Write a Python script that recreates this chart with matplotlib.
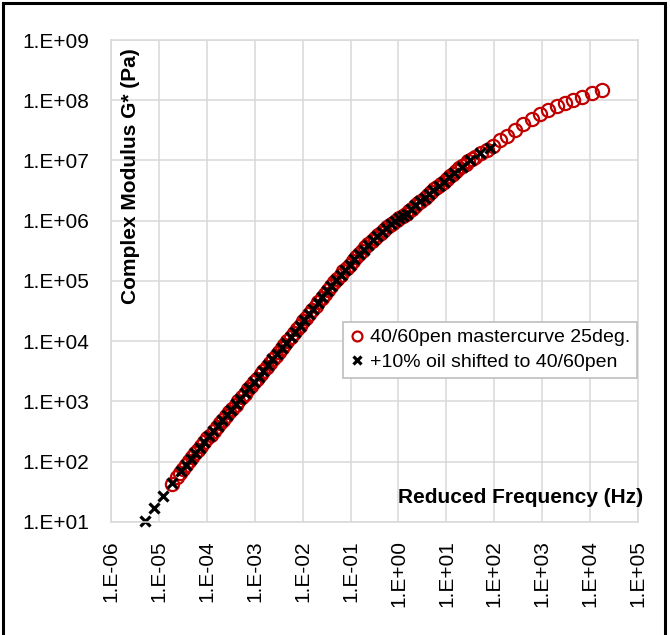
import matplotlib
matplotlib.use("Agg")
import matplotlib.pyplot as plt
from matplotlib.patches import Rectangle
import numpy as np

plt.rcParams['font.family'] = ['Liberation Sans', 'DejaVu Sans']

# 40/60pen mastercurve at 25 deg (log10 of reduced frequency, log10 of G*)
pen_logf = [-4.73, -4.62, -4.50, -4.38, -4.25, -4.12, -3.99, -3.86, -3.73, -3.60,
            -3.47, -3.34, -3.21, -3.08, -2.95, -2.82, -2.69, -2.56, -2.44, -2.32,
            -2.19, -2.06, -1.93, -1.80, -1.67, -1.54, -1.41, -1.28, -1.15, -1.02,
            -0.89, -0.76, -0.63, -0.50, -0.37, -0.24, -0.11, 0.02, 0.15, 0.28,
            0.41, 0.55, 0.68, 0.81, 0.94, 1.07, 1.20, 1.33, 1.46, 1.59,
            1.72, 1.85, 1.98, 2.12, 2.26, 2.43, 2.60, 2.78, 2.95, 3.12,
            3.30, 3.47, 3.65, 3.83, 4.04, 4.24,
            -4.56, -4.44, -4.31, -4.18, -4.05, -3.92, -3.79, -3.66, -3.53, -3.40,
            -3.27, -3.14, -3.01, -2.88, -2.75, -2.62, -2.50, -2.38, -2.25, -2.12,
            -1.99, -1.86, -1.73, -1.60, -1.47, -1.34, -1.21, -1.08, -0.95, -0.82,
            -0.69, -0.56, -0.43, -0.30, -0.17, -0.04, 0.09, 0.22, 0.35, 0.48,
            0.62, 0.75, 0.88, 1.01, 1.14, 1.27, 1.40, 1.53]
pen_logg = [1.63, 1.75, 1.88, 2.01, 2.14, 2.26, 2.39, 2.51, 2.64, 2.76,
            2.88, 3.00, 3.13, 3.26, 3.38, 3.51, 3.64, 3.76, 3.88, 4.00,
            4.13, 4.26, 4.39, 4.52, 4.65, 4.78, 4.91, 5.04, 5.16, 5.27,
            5.39, 5.50, 5.61, 5.71, 5.80, 5.89, 5.97, 6.05, 6.11, 6.20,
            6.29, 6.37, 6.47, 6.56, 6.65, 6.74, 6.82, 6.91, 6.99, 7.06,
            7.13, 7.18, 7.24, 7.34, 7.41, 7.51, 7.60, 7.69, 7.77, 7.84,
            7.91, 7.96, 8.01, 8.06, 8.115, 8.175,
            1.81, 1.95, 2.08, 2.20, 2.33, 2.45, 2.58, 2.70, 2.82, 2.94,
            3.07, 3.20, 3.32, 3.45, 3.58, 3.70, 3.82, 3.94, 4.07, 4.20,
            4.33, 4.46, 4.59, 4.72, 4.85, 4.98, 5.10, 5.22, 5.33, 5.45,
            5.56, 5.66, 5.76, 5.85, 5.93, 6.01, 6.08, 6.16, 6.25, 6.33,
            6.42, 6.52, 6.61, 6.70, 6.78, 6.87, 6.95, 7.03]

# +10% oil, shifted onto the 40/60pen curve
oil_logf = [-5.29, -5.10, -4.91, -4.72, -4.53, -4.44, -4.34, -4.25, -4.15, -4.06,
            -3.96, -3.87, -3.77, -3.68, -3.58, -3.49, -3.39, -3.30, -3.20, -3.11,
            -3.01, -2.92, -2.82, -2.73, -2.63, -2.54, -2.44, -2.35, -2.25, -2.16,
            -2.06, -1.97, -1.87, -1.78, -1.68, -1.59, -1.49, -1.40, -1.30, -1.21,
            -1.11, -1.02, -0.92, -0.83, -0.73, -0.64, -0.54, -0.45, -0.35, -0.26,
            -0.16, -0.07, 0.01, 0.09, 0.17, 0.26, 0.35, 0.45, 0.55, 0.64,
            0.73, 0.84, 0.94, 1.05, 1.15, 1.32, 1.50, 1.70, 1.91]
oil_logg = [1.02, 1.23, 1.43, 1.64, 1.85, 1.95, 2.05, 2.14, 2.23, 2.32,
            2.42, 2.51, 2.60, 2.69, 2.78, 2.86, 2.95, 3.04, 3.14, 3.23,
            3.32, 3.41, 3.51, 3.60, 3.70, 3.79, 3.88, 3.97, 4.07, 4.16,
            4.26, 4.35, 4.45, 4.54, 4.64, 4.73, 4.83, 4.92, 5.02, 5.10,
            5.19, 5.27, 5.36, 5.44, 5.52, 5.60, 5.68, 5.75, 5.82, 5.88,
            5.94, 6.00, 6.04, 6.08, 6.12, 6.19, 6.26, 6.32, 6.37, 6.44,
            6.51, 6.58, 6.65, 6.72, 6.79, 6.90, 7.01, 7.12, 7.20]

x_ticks = [1e-6, 1e-5, 1e-4, 1e-3, 1e-2, 1e-1, 1e0, 1e1, 1e2, 1e3, 1e4, 1e5]
x_labels = ['1.E-06', '1.E-05', '1.E-04', '1.E-03', '1.E-02', '1.E-01',
            '1.E+00', '1.E+01', '1.E+02', '1.E+03', '1.E+04', '1.E+05']
y_ticks = [1e1, 1e2, 1e3, 1e4, 1e5, 1e6, 1e7, 1e8, 1e9]
y_labels = ['1.E+01', '1.E+02', '1.E+03', '1.E+04', '1.E+05',
            '1.E+06', '1.E+07', '1.E+08', '1.E+09']

fig = plt.figure(figsize=(6.7, 6.35), dpi=100)
ax = fig.add_axes([0.1657, 0.178, 0.7866, 0.759])

ax.plot(10 ** np.array(pen_logf), 10 ** np.array(pen_logg), 'o', mfc='none',
        mec='#C00000', ms=9.5, mew=1.6, clip_on=False,
        label='40/60pen mastercurve 25deg.')
ax.plot(10 ** np.array(oil_logf), 10 ** np.array(oil_logg), 'x', color='black',
        ms=7, mew=2.3, clip_on=False, label='+10% oil shifted to 40/60pen')

ax.set_xscale('log')
ax.set_yscale('log')
ax.set_xlim(1e-6, 1e5)
ax.set_ylim(1e1, 1e9)
ax.set_xticks(x_ticks)
ax.set_xticklabels(x_labels, rotation=90)
ax.set_yticks(y_ticks)
ax.set_yticklabels(y_labels)
ax.minorticks_off()
ax.tick_params(axis='both', length=0, labelsize=15)
ax.tick_params(axis='y', pad=16)
ax.tick_params(axis='x', pad=13)

ax.grid(True, color='#D9D9D9', lw=1.1)
ax.set_axisbelow(True)
for s in ax.spines.values():
    s.set_color('#D9D9D9')
    s.set_linewidth(1.1)

fig.text(130 / 670, 0.722, 'Complex Modulus G* (Pa)', rotation=90,
         fontsize=15, fontweight='bold', ha='center', va='center')
fig.text(643 / 670, 0.217, 'Reduced Frequency (Hz)', fontsize=15,
         fontweight='bold', ha='right', va='center')

leg = ax.legend(loc='upper left', bbox_to_anchor=(0.44, 0.415), borderaxespad=0,
                fontsize=14, fancybox=False, framealpha=1, edgecolor='#BFBFBF',
                handlelength=0.7, handletextpad=0.35, borderpad=0.35,
                labelspacing=0.35, markerscale=0.75)
leg.get_frame().set_linewidth(1.2)

# outer border of the chart area
fig.add_artist(Rectangle((0.004, -0.1), 0.989, 1.096, transform=fig.transFigure,
                         fill=False, ec='black', lw=2.2))

fig.savefig('out.png', dpi=100)
